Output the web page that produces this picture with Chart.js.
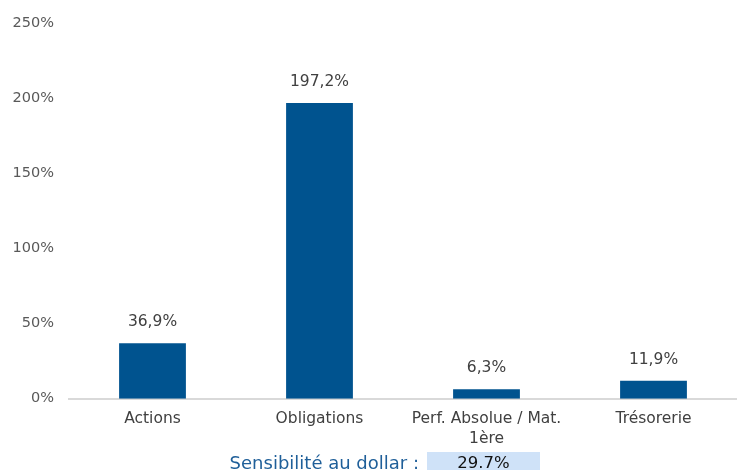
<!DOCTYPE html>
<html lang="fr">
<head>
  <meta charset="UTF-8">
  <title>Exposition</title>
  <script src="https://cdn.jsdelivr.net/npm/chart.js"></script>
  <style>
    body {
      margin: 0;
      background: #ffffff;
      font-family: 'DejaVu Sans', sans-serif;
    }
    #wrap {
      position: relative;
      width: 737px;
      height: 470px;
      overflow: hidden;
    }
    #footer {
      position: absolute;
      left: 0;
      top: 452px;
      width: 737px;
      height: 18px;
    }
    #footer .lbl {
      position: absolute;
      right: 318px;
      top: 0;
      color: #1f5f99;
      font-size: 18px;
      line-height: 22px;
      white-space: nowrap;
    }
    #footer .val {
      position: absolute;
      left: 427px;
      top: 0;
      width: 113px;
      height: 18px;
      background: #cfe2f8;
      color: #111;
      font-size: 16.5px;
      text-align: center;
      line-height: 22px;
    }
  </style>
</head>
<body>
  <div id="wrap">
    <canvas id="expoChart" width="737" height="470"></canvas>
    <div id="footer">
      <span class="lbl">Sensibilité au dollar :</span>
      <span class="val">29.7%</span>
    </div>
  </div>

  <script>
    const categories = ['Actions', 'Obligations', ['Perf. Absolue / Mat.', '1ère'], 'Trésorerie'];
    const expositions = [36.9, 197.2, 6.3, 11.9];
    const valueLabels = ['36,9%', '197,2%', '6,3%', '11,9%'];
    const yTicks = [0, 50, 100, 150, 200, 250];

    // étiquettes au-dessus des barres
    const barLabels = {
      id: 'barLabels',
      afterDatasetsDraw(chart) {
        const ctx = chart.ctx;
        const meta = chart.getDatasetMeta(0);
        ctx.save();
        ctx.font = '15.5px "DejaVu Sans", sans-serif';
        ctx.fillStyle = '#404040';
        ctx.textAlign = 'center';
        ctx.textBaseline = 'alphabetic';
        meta.data.forEach((bar, i) => {
          ctx.fillText(valueLabels[i], bar.x, bar.y - 17);
        });
        ctx.restore();
      }
    };

    const ctx = document.getElementById('expoChart').getContext('2d');
    new Chart(ctx, {
      type: 'bar',
      data: {
        labels: categories,
        datasets: [{
          data: expositions,
          backgroundColor: '#00538f',
          barPercentage: 0.4,
          categoryPercentage: 1.0
        }]
      },
      options: {
        responsive: false,
        animation: false,
        layout: { padding: { top: 10, right: 0, bottom: 11, left: 12 } },
        plugins: {
          legend: { display: false },
          tooltip: { enabled: false }
        },
        scales: {
          y: {
            min: 0,
            max: 250,
            afterBuildTicks(axis) {
              axis.ticks = yTicks.map(v => ({ value: v }));
            },
            afterFit(axis) {
              axis.width = 57;
            },
            grid: { display: false, drawTicks: false },
            border: { display: false },
            ticks: {
              padding: 15,
              color: '#595959',
              font: { family: 'DejaVu Sans', size: 14.5 },
              callback: v => v + '%'
            }
          },
          x: {
            grid: { display: false, drawTicks: false },
            border: { display: true, color: '#d9d9d9', width: 2 },
            ticks: {
              padding: 10,
              color: '#404040',
              maxRotation: 0,
              autoSkip: false,
              font: { family: 'DejaVu Sans', size: 15.5, lineHeight: 1.3 }
            }
          }
        }
      },
      plugins: [barLabels]
    });
  </script>
</body>
</html>
